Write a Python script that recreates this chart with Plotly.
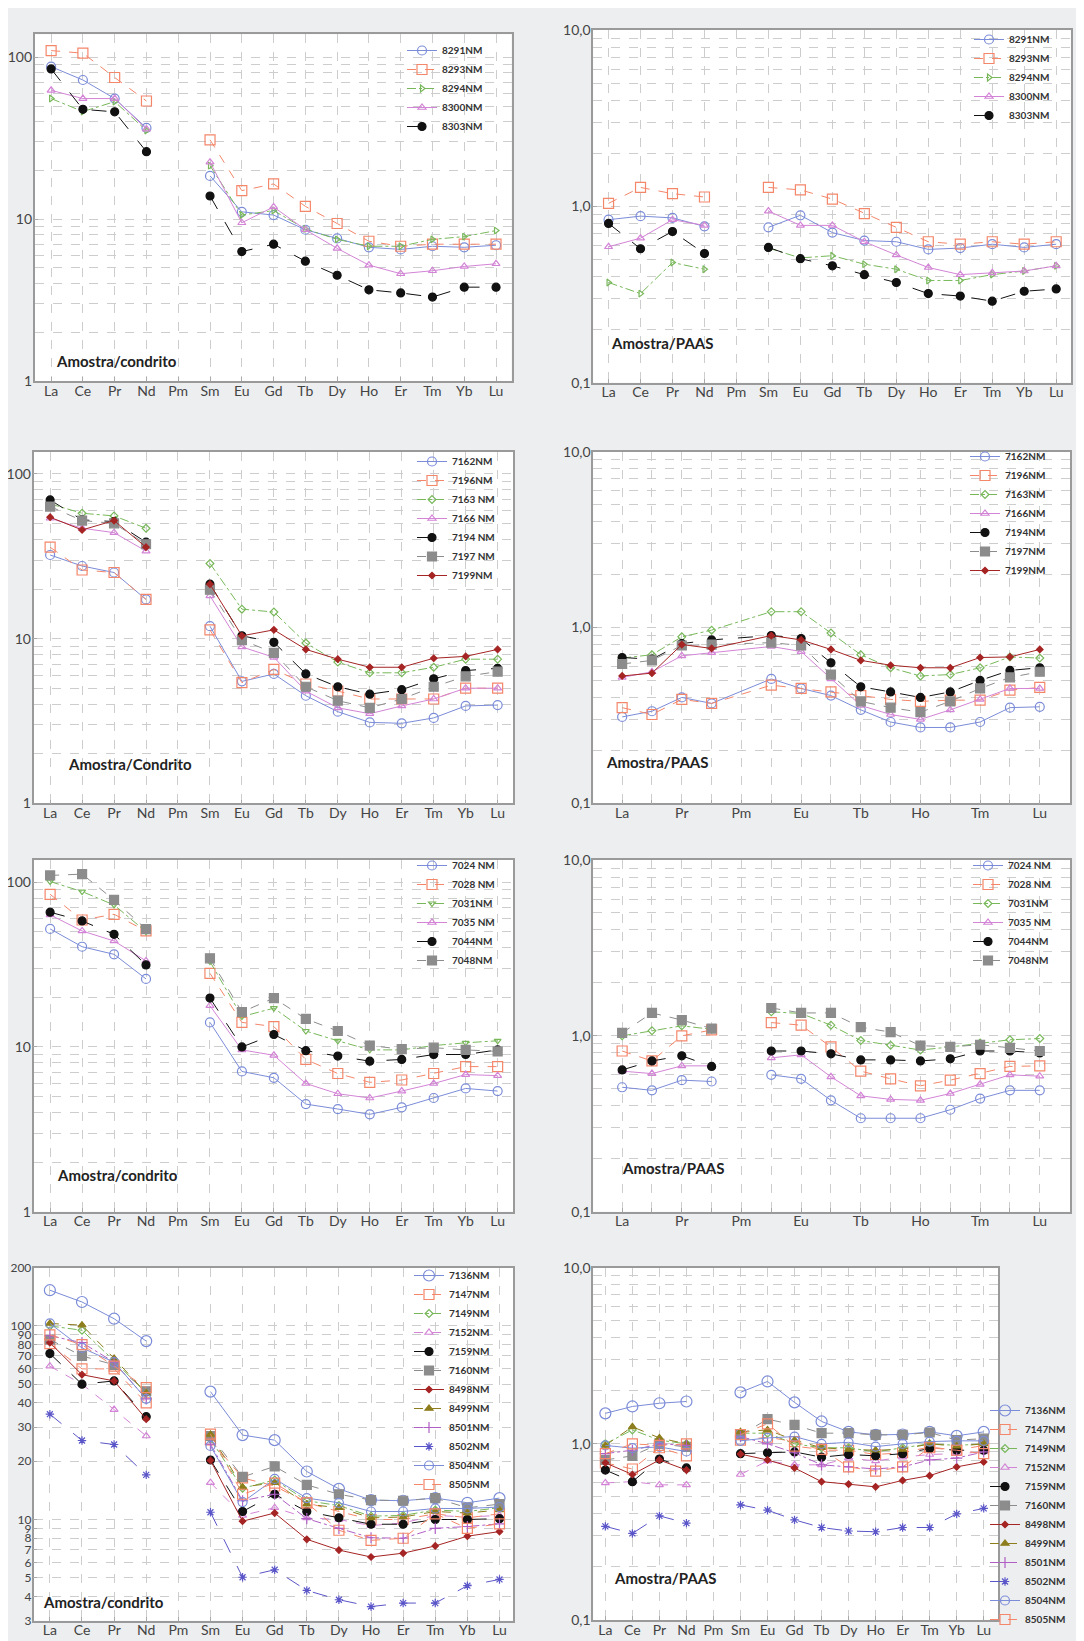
import plotly.graph_objects as go

N = None
ELEMENTS = ['La', 'Ce', 'Pr', 'Nd', 'Pm', 'Sm', 'Eu', 'Gd', 'Tb', 'Dy', 'Ho', 'Er', 'Tm', 'Yb', 'Lu']

# ---------- Panel 1: Amostra/condrito ----------
p1 = {
    '8291NM': [87.5, 72.4, 55.6, 36.6, N, 18.5, 11.1, 10.6, 8.6, 7.6, 6.7, 6.5, 6.8, 6.7, 6.9],
    '8293NM': [110, 106, 75, 53.7, N, 30.9, 15.0, 16.5, 12.0, 9.4, 7.3, 6.8, 7.0, 7.0, 7.0],
    '8294NM': [55.6, 46.2, 53.2, 35.3, N, 21.4, 10.6, 11.3, 8.7, 7.5, 6.8, 6.8, 7.5, 7.8, 8.5],
    '8300NM': [62.5, 55.6, 55.6, 36.0, N, 22.5, 9.5, 11.9, 8.6, 6.6, 5.2, 4.6, 4.8, 5.1, 5.3],
    '8303NM': [84.7, 47.7, 46.0, 26.1, N, 13.9, 6.3, 7.0, 5.5, 4.5, 3.66, 3.5, 3.3, 3.8, 3.8],
}
# ---------- Panel 2: Amostra/PAAS ----------
p2 = {
    '8291NM': [0.84, 0.88, 0.86, 0.77, N, 0.76, 0.89, 0.71, 0.64, 0.63, 0.57, 0.58, 0.61, 0.585, 0.61],
    '8293NM': [1.04, 1.28, 1.18, 1.13, N, 1.28, 1.24, 1.10, 0.91, 0.76, 0.63, 0.61, 0.63, 0.61, 0.63],
    '8294NM': [0.37, 0.32, 0.48, 0.44, N, 0.58, 0.51, 0.525, 0.47, 0.44, 0.38, 0.38, 0.41, 0.43, 0.46],
    '8300NM': [0.59, 0.66, 0.84, 0.78, N, 0.94, 0.78, 0.78, 0.63, 0.53, 0.45, 0.41, 0.42, 0.43, 0.46],
    '8303NM': [0.80, 0.575, 0.72, 0.54, N, 0.585, 0.505, 0.46, 0.41, 0.37, 0.32, 0.31, 0.29, 0.33, 0.34],
}
# ---------- Panel 3: Amostra/Condrito ----------
p3 = {
    '7162NM': [32.2, 27.6, 25.2, 17.3, N, 11.9, 5.5, 6.1, 4.5, 3.6, 3.1, 3.06, 3.3, 3.9, 3.95],
    '7196NM': [35.9, 26.1, 25.2, 17.3, N, 11.3, 5.4, 6.5, 5.3, 4.8, 4.3, 4.3, 4.3, 5.0, 5.0],
    '7163 NM': [65.8, 57.7, 55.6, 46.8, N, 28.6, 15.1, 14.5, 9.4, 7.2, 6.2, 6.2, 6.7, 7.5, 7.5],
    '7166 NM': [53.8, 46.8, 44.0, 34.0, N, 18.2, 8.9, 7.7, 4.8, 3.8, 3.5, 3.9, 4.3, 5.0, 5.0],
    '7194 NM': [69.5, 52.6, 51.4, 38.5, N, 21.4, 10.4, 9.5, 6.1, 5.1, 4.6, 4.9, 5.7, 6.4, 6.6],
    '7197 NM': [63.4, 52.1, 50.1, 37.4, N, 19.8, 9.8, 8.2, 5.1, 4.2, 3.8, 4.3, 5.1, 5.9, 6.3],
    '7199NM': [54.6, 45.7, 52.1, 35.9, N, 21.4, 10.4, 11.3, 8.6, 7.5, 6.7, 6.7, 7.6, 7.8, 8.6],
}
# ---------- Panel 4: Amostra/PAAS ----------
p4 = {
    '7162NM': [0.31, 0.334, 0.40, 0.37, N, 0.51, 0.45, 0.41, 0.34, 0.29, 0.27, 0.27, 0.29, 0.35, 0.354],
    '7196NM': [0.35, 0.32, 0.39, 0.37, N, 0.47, 0.45, 0.43, 0.41, 0.39, 0.38, 0.386, 0.386, 0.44, 0.456],
    '7163NM': [0.67, 0.70, 0.885, 0.966, N, 1.23, 1.23, 0.93, 0.70, 0.59, 0.53, 0.54, 0.59, 0.68, 0.67],
    '7166NM': [0.52, 0.56, 0.69, 0.72, N, 0.78, 0.73, 0.51, 0.36, 0.32, 0.30, 0.34, 0.39, 0.45, 0.45],
    '7194NM': [0.675, 0.66, 0.81, 0.85, N, 0.90, 0.865, 0.63, 0.46, 0.43, 0.40, 0.43, 0.50, 0.57, 0.59],
    '7197NM': [0.62, 0.65, 0.79, 0.80, N, 0.82, 0.79, 0.54, 0.38, 0.35, 0.33, 0.38, 0.45, 0.52, 0.56],
    '7199NM': [0.53, 0.55, 0.80, 0.76, N, 0.90, 0.85, 0.75, 0.65, 0.61, 0.59, 0.59, 0.675, 0.68, 0.75],
}
# ---------- Panel 5: Amostra/condrito ----------
p5 = {
    '7024 NM': [52.1, 40.6, 36.5, 25.9, N, 14.1, 7.1, 6.5, 4.5, 4.2, 3.9, 4.3, 4.9, 5.6, 5.4],
    '7028 NM': [84.5, 59.0, 63.9, 50.6, N, 28.0, 14.1, 13.3, 8.4, 6.9, 6.1, 6.3, 6.9, 7.6, 7.6],
    '7031NM': [101, 87.8, 72.8, 50.1, N, 33.0, 15.3, 17.2, 12.5, 10.9, 9.6, 9.6, 10.2, 10.6, 10.9],
    '7035 NM': [63.4, 50.6, 44.0, 33.3, N, 17.8, 9.6, 8.9, 6.0, 5.2, 4.9, 5.4, 6.0, 6.8, 6.7],
    '7044NM': [65.8, 58.2, 48.3, 31.5, N, 19.8, 10.0, 11.9, 9.5, 8.8, 8.2, 8.4, 9.0, 9.0, 9.6],
    '7048NM': [110, 112, 78.1, 51.9, N, 34.5, 16.3, 19.8, 14.8, 12.5, 10.2, 9.7, 9.9, 9.6, 9.4],
}
# ---------- Panel 6: Amostra/PAAS ----------
p6 = {
    '7024 NM': [0.51, 0.49, 0.56, 0.55, N, 0.60, 0.57, 0.43, 0.34, 0.34, 0.34, 0.38, 0.44, 0.49, 0.49],
    '7028 NM': [0.82, 0.72, 1.0, 1.08, N, 1.19, 1.15, 0.865, 0.63, 0.57, 0.52, 0.56, 0.61, 0.67, 0.675],
    '7031NM': [1.0, 1.07, 1.14, 1.09, N, 1.37, 1.34, 1.15, 0.94, 0.885, 0.83, 0.865, 0.91, 0.95, 0.965],
    '7035 NM': [0.63, 0.61, 0.675, 0.675, N, 0.75, 0.78, 0.585, 0.456, 0.435, 0.43, 0.47, 0.53, 0.60, 0.59],
    '7044NM': [0.64, 0.72, 0.77, 0.67, N, 0.82, 0.82, 0.79, 0.73, 0.73, 0.72, 0.74, 0.82, 0.82, 0.80],
    '7048NM': [1.04, 1.35, 1.23, 1.10, N, 1.44, 1.35, 1.35, 1.12, 1.05, 0.88, 0.865, 0.89, 0.855, 0.82],
}
# ---------- Panel 7: Amostra/condrito ----------
p7 = {
    '7136NM': [153, 133, 109, 83.5, N, 45.8, 27.3, 25.7, 17.7, 14.4, 12.6, 12.5, 12.9, 12.2, 12.9],
    '7147NM': [81, 60, 60, 40, N, 25.8, 16.4, 14.9, 12.2, 11.0, 10.0, 10.0, 10.7, 10.2, 10.7],
    '7149NM': [100, 95, 66, 45, N, 26, 14.5, 16.0, 12.5, 11.8, 10.4, 10.5, 11.2, 11.0, 11.5],
    '7152NM': [62, 50, 37, 27, N, 15.5, 10.5, 11.5, 10.2, 10.0, 9.3, 9.6, 10.5, 10.3, 10.5],
    '7159NM': [72, 50, 52, 34, N, 20.3, 11.0, 13.5, 11.0, 10.2, 9.45, 9.45, 10.0, 10.0, 10.1],
    '7160NM': [85, 70, 63, 46, N, 27, 16.6, 18.8, 15.1, 13.5, 12.6, 12.5, 12.9, 11.5, 12.0],
    '8498NM': [82, 56, 52, 33, N, 20.2, 9.8, 10.8, 7.9, 6.95, 6.4, 6.7, 7.3, 8.2, 8.66],
    '8499NM': [103, 101, 68, 45, N, 27.5, 14.7, 15.5, 12.0, 11.5, 10.2, 10.3, 11.0, 10.8, 11.2],
    '8501NM': [89, 82, 65, 42, N, 24.5, 12.5, 13.5, 10.1, 9.0, 8.05, 8.0, 9.0, 9.2, 9.5],
    '8502NM': [35, 25.6, 24.4, 17, N, 10.9, 5.03, 5.5, 4.3, 3.85, 3.55, 3.7, 3.7, 4.55, 4.9],
    '8504NM': [103, 77, 65, 42, N, 24, 12.3, 16.2, 12.9, 12.2, 11.0, 11.0, 11.4, 11.4, 11.6],
    '8505NM': [90, 80, 62, 48, N, 27.6, 13.5, 15.4, 12.2, 8.8, 7.8, 8.0, 10.7, 9.0, 9.5],
}
# ---------- Panel 8: Amostra/PAAS ----------
p8 = {
    '7136NM': [1.49, 1.63, 1.70, 1.74, N, 1.96, 2.26, 1.72, 1.34, 1.17, 1.125, 1.13, 1.17, 1.11, 1.17],
    '7147NM': [0.78, 0.72, 0.95, 0.855, N, 1.05, 1.09, 1.03, 0.92, 0.92, 0.87, 0.89, 0.96, 0.92, 0.98],
    '7149NM': [1.0, 1.2, 1.05, 1.0, N, 1.15, 1.15, 1.0, 0.95, 0.95, 0.90, 0.95, 1.0, 0.98, 1.0],
    '7152NM': [0.60, 0.61, 0.585, 0.585, N, 0.67, 0.80, 0.76, 0.76, 0.83, 0.80, 0.84, 0.87, 0.88, 0.90],
    '7159NM': [0.71, 0.61, 0.82, 0.73, N, 0.88, 0.89, 0.90, 0.84, 0.87, 0.855, 0.88, 0.94, 0.92, 0.92],
    '7160NM': [0.81, 0.855, 1.0, 0.96, N, 1.12, 1.38, 1.28, 1.15, 1.15, 1.125, 1.125, 1.16, 1.05, 1.07],
    '8498NM': [0.78, 0.67, 0.81, 0.71, N, 0.875, 0.81, 0.73, 0.61, 0.59, 0.57, 0.62, 0.66, 0.74, 0.79],
    '8499NM': [0.98, 1.25, 1.08, 1.0, N, 1.17, 1.2, 1.05, 0.95, 0.93, 0.92, 0.93, 1.0, 0.97, 1.0],
    '8501NM': [0.88, 0.92, 1.0, 0.98, N, 1.1, 1.0, 0.89, 0.76, 0.74, 0.72, 0.74, 0.81, 0.83, 0.90],
    '8502NM': [0.34, 0.31, 0.39, 0.355, N, 0.45, 0.42, 0.37, 0.335, 0.32, 0.317, 0.335, 0.335, 0.40, 0.43],
    '8504NM': [0.98, 0.945, 0.96, 0.905, N, 1.04, 1.08, 1.10, 1.0, 1.02, 0.965, 1.0, 1.03, 1.04, 1.04],
    '8505NM': [0.88, 1.0, 0.98, 1.0, N, 1.13, 1.30, 0.97, 0.93, 0.74, 0.70, 0.74, 0.95, 0.92, 0.88],
}

# ---------- styles ----------
BLUE, ORANGE, GREEN, PINK = '#7b8cd8', '#f4866a', '#78b85a', '#d384d6'
BLACK, GRAY, DRED, OLIVE = '#111111', '#8c8c8c', '#a52424', '#8d7d1c'
PURPLE, DBLUE = '#b05fc4', '#5a55c8'

STY = {
    'blue':   dict(color=BLUE, dash='solid', symbol='circle-open', size=9),
    'blueL':  dict(color=BLUE, dash='solid', symbol='circle-open', size=11),
    'orange': dict(color=ORANGE, dash='dash', symbol='square-open', size=10),
    'greenR': dict(color=GREEN, dash='dashdot', symbol='triangle-right-open', size=6),
    'greenD': dict(color=GREEN, dash='dashdot', symbol='diamond-open', size=6),
    'greenV': dict(color=GREEN, dash='dashdot', symbol='triangle-down-open', size=6),
    'pink':   dict(color=PINK, dash='solid', symbol='triangle-up-open', size=7),
    'pinkD':  dict(color=PINK, dash='dash', symbol='triangle-up-open', size=7),
    'black':  dict(color=BLACK, dash='longdash', symbol='circle', size=8),
    'gray':   dict(color=GRAY, dash='dash', symbol='square', size=9),
    'dred':   dict(color=DRED, dash='solid', symbol='diamond', size=5),
    'olive':  dict(color=OLIVE, dash='dash', symbol='triangle-up', size=7),
    'purple': dict(color=PURPLE, dash='dashdot', symbol='cross-thin-open', size=8),
    'dblue':  dict(color=DBLUE, dash='longdash', symbol='asterisk-open', size=7),
}
S1 = ['blue', 'orange', 'greenR', 'pink', 'black']
S3 = ['blue', 'orange', 'greenD', 'pink', 'black', 'gray', 'dred']
S5 = ['blue', 'orange', 'greenV', 'pink', 'black', 'gray']
S6 = ['blue', 'orange', 'greenD', 'pink', 'black', 'gray']
S7 = ['blueL', 'orange', 'greenD', 'pinkD', 'black', 'gray', 'dred', 'olive', 'purple', 'dblue', 'blue', 'orange']

# page offset of the plot div (default body margin of the html page)
OFF = 8
W, H = 1084 - OFF, 1641 - OFF


def fx(px):
    return (px - OFF) / W


def fy(px):
    return 1 - (px - OFF) / H


# panel boxes in page pixels: (x0, x1, y_top, y_bottom)
BOX = [
    (34.6, 511.6, 34.3, 381.0), (593.2, 1070.9, 30.0, 382.7),
    (33.5, 513.3, 451.7, 803.3), (593.2, 1070.2, 451.7, 803.3),
    (33.5, 513.3, 860.0, 1211.7), (593.2, 1070.2, 860.0, 1211.7),
    (33.5, 513.3, 1267.7, 1620.7), (593.2, 998.3, 1267.7, 1620.0),
]
XR = [[-0.52, 14.49], [-0.48, 14.46], [-0.52, 14.49], [-0.97, 15.02],
      [-0.52, 14.49], [-0.97, 15.02], [-0.51, 14.43], [-0.45, 14.54]]
YR = [[0, 2.142], [-1, 1], [0, 2.135], [-1, 1], [0, 2.135], [-1, 1], [0.4771, 2.301], [-1, 1]]
CONNECT = [False, False, False, True, False, False, False, False]
LABEL = ['Amostra/condrito', 'Amostra/PAAS', 'Amostra/Condrito', 'Amostra/PAAS',
         'Amostra/condrito', 'Amostra/PAAS', 'Amostra/condrito', 'Amostra/PAAS']
LABEL_POS = [(53.6, 360.7), (609.4, 343.3), (65.7, 764.3), (603.5, 761.7),
             (54.6, 1175.0), (619.8, 1167.7), (40.8, 1601.7), (611.8, 1578.3)]
# legend: (left px, top/bottom px, anchor) in page pixels
LEG_POS = [(402, 36, 'top'), (969, 25, 'top'), (412, 447, 'top'), (965, 442, 'top'),
           (412, 851, 'top'), (968, 851, 'top'), (409, 1261, 'top'), (985, 1634, 'bottom')]

PANELS = [(p1, S1), (p2, S1), (p3, S3), (p4, S3), (p5, S5), (p6, S6), (p7, S7), (p8, S7)]

fig = go.Figure()
xs = list(range(len(ELEMENTS)))
for i, (data, styles) in enumerate(PANELS):
    k = '' if i == 0 else str(i + 1)
    leg = 'legend' + k
    for (name, vals), sk in zip(data.items(), styles):
        s = STY[sk]
        fig.add_trace(go.Scatter(
            x=xs, y=vals, name=name, mode='lines+markers',
            connectgaps=CONNECT[i],
            line=dict(color=s['color'], dash=s['dash'], width=1),
            marker=dict(symbol=s['symbol'], size=s['size'], color=s['color'],
                        line=dict(color=s['color'], width=1.2)),
            xaxis='x' + k, yaxis='y' + k, legend=leg, showlegend=True,
        ))

GRID = '#cdcdcd'
AX_LINE = '#9a9a9a'
TICKFONT = dict(family='Lato, Open Sans, sans-serif', size=14, color='#444444')

layout = dict(
    width=W, height=H, margin=dict(l=0, r=0, t=0, b=0, autoexpand=False),
    paper_bgcolor='#eceef0', plot_bgcolor='#ffffff',
    font=dict(family='Lato, sans-serif'),
    annotations=[],
)

left_major = [1, 10, 100]
left_minor = [2, 3, 4, 5, 6, 7, 8, 9, 20, 30, 40, 50, 60, 70, 80, 90]
right_major = [0.1, 1, 10]
right_minor = [0.2, 0.3, 0.4, 0.5, 0.6, 0.7, 0.8, 0.9, 2, 3, 4, 5, 6, 7, 8, 9]
p7_ticks = [3, 4, 5, 6, 7, 8, 9, 10, 20, 30, 40, 50, 60, 70, 80, 90, 100, 200]

for i in range(8):
    k = '' if i == 0 else str(i + 1)
    x0, x1, yt, yb = BOX[i]
    if i in (3, 5):
        ticktext = [e if j % 2 == 0 else '' for j, e in enumerate(ELEMENTS)]
    else:
        ticktext = ELEMENTS
    layout['xaxis' + k] = dict(
        domain=[fx(x0), fx(x1)], anchor='y' + k, range=XR[i], automargin=False,
        tickmode='array', tickvals=xs, ticktext=ticktext,
        showgrid=True, gridcolor=GRID, griddash='dash', gridwidth=1,
        showline=True, linecolor=AX_LINE, linewidth=1.5, mirror=True,
        ticks='inside', ticklen=4, tickcolor='#aaaaaa', ticklabelstandoff=-4,
        tickfont=TICKFONT, zeroline=False, fixedrange=True,
    )
    yfont = TICKFONT
    if i == 6:
        yt_vals, yt_text, ymin = p7_ticks, [str(v) for v in p7_ticks], []
        yfont = dict(TICKFONT, size=12)
    elif i % 2 == 0:
        yt_vals, yt_text, ymin = left_major, ['1', '10', '100'], left_minor
    else:
        yt_vals, yt_text, ymin = right_major, ['0,1', '1,0', '10,0'], right_minor
    layout['yaxis' + k] = dict(
        domain=[fy(yb), fy(yt)], anchor='x' + k, type='log', range=YR[i], automargin=False,
        tickmode='array', tickvals=yt_vals, ticktext=yt_text,
        showgrid=True, gridcolor=GRID, griddash='dash', gridwidth=1,
        minor=dict(tickmode='array', tickvals=ymin, showgrid=True, gridcolor=GRID,
                   griddash='dash', gridwidth=1, ticks=''),
        showline=True, linecolor=AX_LINE, linewidth=1.5, mirror=True,
        ticks='inside', ticklen=4, tickcolor='#aaaaaa', ticklabelstandoff=-2,
        tickfont=yfont, zeroline=False, fixedrange=True,
    )
    lx, ly, anc = LEG_POS[i]
    layout['legend' + k] = dict(
        x=fx(lx), y=max(0.0, min(1.0, fy(ly))), xanchor='left', yanchor=anc,
        bgcolor='rgba(0,0,0,0)', borderwidth=0,
        font=dict(family='Lato, sans-serif', size=10, color='#333333', weight='bold'),
        itemsizing='trace', tracegroupgap=0,
    )
    tx, ty = LABEL_POS[i]
    layout['annotations'].append(dict(
        text='<b>' + LABEL[i] + '</b>', x=fx(tx), y=fy(ty), xref='paper', yref='paper',
        xanchor='left', yanchor='middle', showarrow=False,
        font=dict(family='Lato, sans-serif', size=15, color='#222222'),
    ))

fig.update_layout(**layout)
fig.write_html('out.html')
